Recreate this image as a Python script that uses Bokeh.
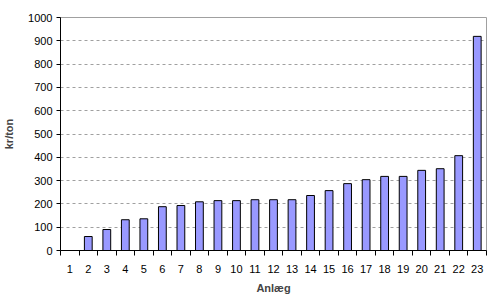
from bokeh.plotting import figure
from bokeh.models import FixedTicker, Range1d
from bokeh.embed import file_html
from bokeh.resources import INLINE

anlaeg = list(range(1, 24))
kr_per_ton = [0, 60, 90, 132, 136, 188, 193, 209, 214, 214, 218, 218, 218,
              236, 257, 287, 304, 318, 318, 344, 351, 407, 919]
y_ticks = [0, 100, 200, 300, 400, 500, 600, 700, 800, 900, 1000]

FONT = "Liberation Sans"

p = figure(width=490, height=305, output_backend="svg", toolbar_location=None,
           x_range=Range1d(0.5, 23.5), y_range=Range1d(0, 1000),
           min_border_left=54, min_border_right=4, min_border_top=17,
           min_border_bottom=55)

p.vbar(x=anlaeg, top=kr_per_ton, width=0.42, bottom=0,
       fill_color="#9999ff", line_color="black", line_width=1)

p.outline_line_color = "#a0a0a0"
p.outline_line_width = 1
p.background_fill_color = "white"
p.border_fill_color = "white"

p.xgrid.grid_line_color = None
p.ygrid.ticker = FixedTicker(ticks=y_ticks[1:-1])
p.ygrid.grid_line_color = "#a0a0a0"
p.ygrid.grid_line_dash = "3 3"

# y axis
p.yaxis.ticker = FixedTicker(ticks=y_ticks)
p.yaxis.axis_line_color = "black"
p.yaxis.major_tick_line_color = "black"
p.yaxis.major_tick_in = 0
p.yaxis.major_tick_out = 4
p.yaxis.minor_tick_line_color = None
p.yaxis.major_label_text_font = FONT
p.yaxis.major_label_text_font_size = "11px"
p.yaxis.major_label_text_color = "black"
p.yaxis.major_label_standoff = 4
p.yaxis.axis_label = "kr/ton"
p.yaxis.axis_label_text_font = FONT
p.yaxis.axis_label_text_font_size = "11px"
p.yaxis.axis_label_text_font_style = "bold"
p.yaxis.axis_label_standoff = 10

# x axis
p.xaxis.ticker = FixedTicker(ticks=anlaeg,
                             minor_ticks=[i + 0.5 for i in range(0, 24)])
p.xaxis.axis_line_color = "black"
p.xaxis.major_tick_line_color = None
p.xaxis.major_tick_in = 0
p.xaxis.major_tick_out = 0
p.xaxis.minor_tick_line_color = "black"
p.xaxis.minor_tick_in = 0
p.xaxis.minor_tick_out = 5
p.xaxis.major_label_text_font = FONT
p.xaxis.major_label_text_font_size = "11px"
p.xaxis.major_label_text_color = "black"
p.xaxis.major_label_standoff = 9
p.xaxis.axis_label = "Anlæg"
p.xaxis.axis_label_text_font = FONT
p.xaxis.axis_label_text_font_size = "11px"
p.xaxis.axis_label_text_font_style = "bold"
p.xaxis.axis_label_standoff = 6

open("out.html", "w").write(file_html(p, INLINE))
